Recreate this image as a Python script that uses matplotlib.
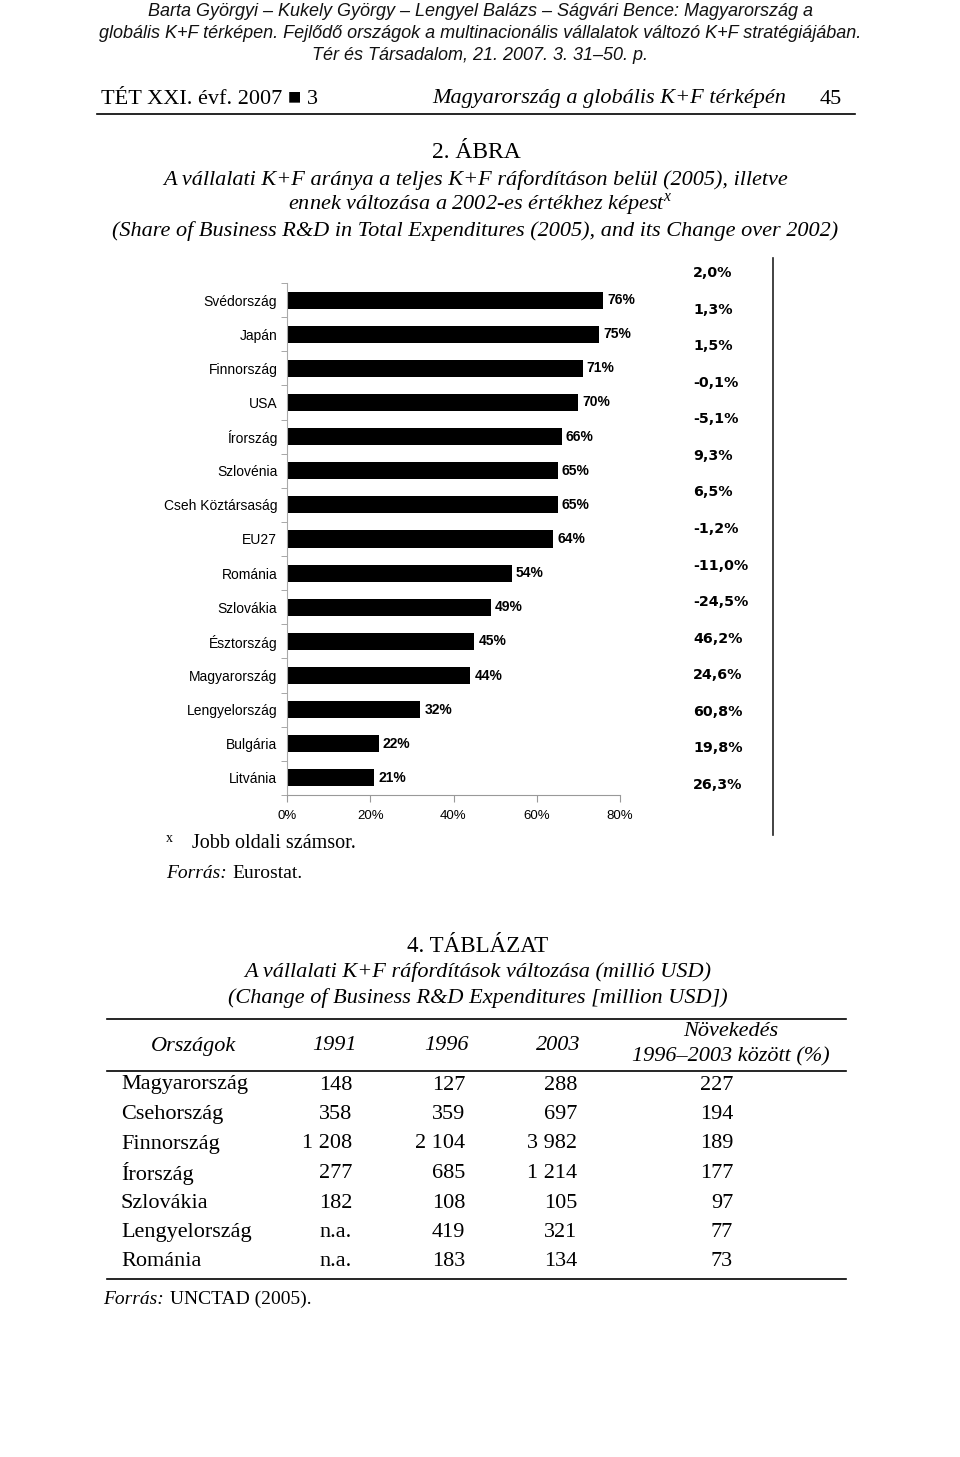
import matplotlib.pyplot as plt
from matplotlib.lines import Line2D

# chart data: share of business R&D in total R&D (2005) and change over 2002
countries = ["Svédország", "Japán", "Finnország", "USA", "Írország", "Szlovénia",
             "Cseh Köztársaság", "EU27", "Románia", "Szlovákia", "Észtország",
             "Magyarország", "Lengyelország", "Bulgária", "Litvánia"]
share_2005 = [76, 75, 71, 70, 66, 65, 65, 64, 54, 49, 45, 44, 32, 22, 21]
change_2002 = [2.0, 1.3, 1.5, -0.1, -5.1, 9.3, 6.5, -1.2, -11.0, -24.5,
               46.2, 24.6, 60.8, 19.8, 26.3]
x_ticks = [0, 20, 40, 60, 80]

# table data: business R&D expenditures (million USD)
tab_countries = ["Magyarország", "Csehország", "Finnország", "Írország",
                 "Szlovákia", "Lengyelország", "Románia"]
exp_1991 = [148, 358, 1208, 277, 182, None, None]
exp_1996 = [127, 359, 2104, 685, 108, 419, 183]
exp_2003 = [288, 697, 3982, 1214, 105, 321, 134]
growth = [227, 194, 189, 177, 97, 77, 73]

W, H = 960, 1457
SANS = "Liberation Sans"
SERIF = "Liberation Serif"


def fx(x):
    return x / W


def fy(y):
    return 1 - y / H


def txt(x, y, s, **kw):
    kw.setdefault("va", "center")
    fig.text(fx(x), fy(y), s, **kw)


def hline(x0, x1, y, lw=1.0, color="black"):
    fig.add_artist(Line2D([fx(x0), fx(x1)], [fy(y), fy(y)], lw=lw, color=color))


def fmt_num(v):
    if v is None:
        return "n.a."
    return f"{v:,}".replace(",", " ")


fig = plt.figure(figsize=(W / 100, H / 100), dpi=100)
fig.patch.set_facecolor("white")

# page header
hdr = dict(family=SANS, style="italic", fontsize=13, ha="center", color="#111111")
txt(480, 12, "Barta Györgyi – Kukely György – Lengyel Balázs – Ságvári Bence: Magyarország a", **hdr)
txt(480, 33, "globális K+F térképen. Fejlődő országok a multinacionális vállalatok változó K+F stratégiájában.", **hdr)
txt(480, 55, "Tér és Társadalom, 21. 2007. 3. 31–50. p.", **hdr)

txt(101, 99, "TÉT XXI. évf. 2007 ■ 3", family=[SERIF, "DejaVu Sans"], fontsize=16)
txt(432, 99, "Magyarország a globális K+F térképén", family=SERIF, style="italic", fontsize=16)
txt(842, 99, "45", family=SERIF, fontsize=16, ha="right")
hline(97, 855, 114, lw=1.2)

# figure title
txt(476, 152, "2. ÁBRA", family=SERIF, fontsize=17, ha="center")
ttl = dict(family=SERIF, style="italic", fontsize=16, ha="center")
txt(476, 180, "A vállalati K+F aránya a teljes K+F ráfordításon belül (2005), illetve", **ttl)
txt(480, 205, "ennek változása a 2002-es értékhez képest$^{\\mathregular{x}}$", **ttl)
txt(475, 231, "(Share of Business R&D in Total Expenditures (2005), and its Change over 2002)", **ttl)

# bar chart
ax = fig.add_axes([fx(287), fy(795), fx(620) - fx(287), (795 - 283) / H])
ypos = list(range(len(countries)))
bars = ax.barh(ypos, share_2005, height=0.5, color="black")
ax.bar_label(bars, labels=[f"{v}%" for v in share_2005], padding=3,
             fontsize=10, fontweight="bold", family=SANS)
ax.set_xlim(0, 80)
ax.set_ylim(len(countries) - 0.5, -0.5)
ax.set_yticks(ypos)
ax.set_yticklabels(countries, family=SANS, fontsize=10)
ax.set_yticks([i - 0.5 for i in range(len(countries) + 1)], minor=True)
ax.tick_params(axis="y", which="major", length=0, pad=7)
ax.tick_params(axis="y", which="minor", length=4, color="#999999", direction="out")
ax.set_xticks(x_ticks)
ax.set_xticklabels([f"{t}%" for t in x_ticks], family=SANS, fontsize=9.5)
ax.tick_params(axis="x", length=5, color="#999999", pad=6)
for side in ["top", "right"]:
    ax.spines[side].set_visible(False)
ax.spines["left"].set_color("#aaaaaa")
ax.spines["bottom"].set_color("#999999")

# right-hand column: change over 2002
ax2 = fig.add_axes([fx(680), fy(803.3), 93 / W, 548.6 / H])
ax2.set_xlim(0, 1)
ax2.set_ylim(len(change_2002) - 0.5, -0.5)
ax2.axis("off")
for i, v in enumerate(change_2002):
    ax2.text(13 / 93, i, f"{v:.1f}%".replace(".", ","), va="center", ha="left",
             family="DejaVu Sans", fontweight="bold", fontsize=10.3)
fig.add_artist(Line2D([fx(773), fx(773)], [fy(258), fy(835)], lw=1.2, color="#222222"))

# notes under chart
txt(166, 838, "x", family=SERIF, fontsize=10)
txt(192, 843, "Jobb oldali számsor.", family=SERIF, fontsize=14.5)
txt(166, 873, "Forrás:", family=SERIF, style="italic", fontsize=14)
txt(232, 873, "Eurostat.", family=SERIF, fontsize=14)

# table title
txt(478, 946, "4. TÁBLÁZAT", family=SERIF, fontsize=16.5, ha="center")
txt(478, 972, "A vállalati K+F ráfordítások változása (millió USD)", **ttl)
txt(478, 998, "(Change of Business R&D Expenditures [million USD])", **ttl)

# table
hline(107, 846, 1019, lw=1.2)
hline(107, 846, 1071, lw=1.2)
hline(107, 846, 1279, lw=1.2)
th = dict(family=SERIF, style="italic", fontsize=16, ha="center")
txt(193, 1046, "Országok", **th)
txt(334, 1046, "1991", **th)
txt(446, 1046, "1996", **th)
txt(558, 1046, "2003", **th)
txt(731, 1032, "Növekedés", **th)
txt(731, 1057, "1996–2003 között (%)", **th)

td = dict(family=SERIF, fontsize=16)
row_y0, row_dy = 1085, 29.5
for i, name in enumerate(tab_countries):
    y = row_y0 + i * row_dy
    txt(121, y, name, ha="left", **td)
    txt(352, y, fmt_num(exp_1991[i]), ha="right", **td)
    txt(465, y, fmt_num(exp_1996[i]), ha="right", **td)
    txt(577, y, fmt_num(exp_2003[i]), ha="right", **td)
    txt(733, y, fmt_num(growth[i]), ha="right", **td)

txt(103, 1299, "Forrás:", family=SERIF, style="italic", fontsize=14)
txt(170, 1299, "UNCTAD (2005).", family=SERIF, fontsize=14)

fig.savefig("out.png", dpi=100, facecolor="white")
